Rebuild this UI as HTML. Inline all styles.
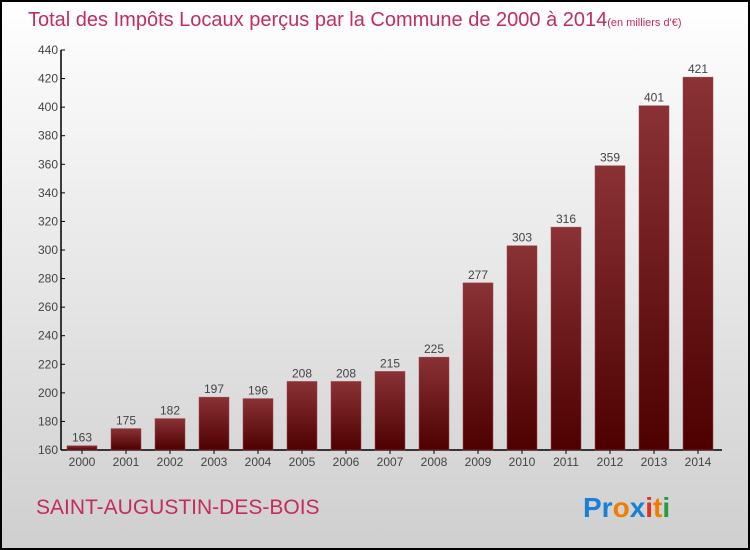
<!DOCTYPE html>
<html><head><meta charset="utf-8"><style>
body{margin:0;width:750px;height:550px;overflow:hidden}
svg{display:block;font-family:"Liberation Sans",sans-serif}
</style></head><body>
<svg id="chart" width="750" height="550">
<defs>
<linearGradient id="bg" x1="0" y1="0" x2="0" y2="1"><stop offset="0" stop-color="#ffffff"/><stop offset="1" stop-color="#cfcfcf"/></linearGradient>
<linearGradient id="bar" x1="0" y1="0" x2="0" y2="1"><stop offset="0" stop-color="#8a3236"/><stop offset="1" stop-color="#4e0000"/></linearGradient>
</defs>
<rect x="1" y="1" width="748" height="548" fill="url(#bg)" stroke="#000" stroke-width="2"/>
<text x="28" y="26" font-size="20" fill="#c42c5c">Total des Impôts Locaux perçus par la Commune de 2000 à 2014<tspan font-size="11">(en milliers d'€)</tspan></text>
<text x="36" y="514" font-size="21" fill="#c42c5c">SAINT-AUGUSTIN-DES-BOIS</text>
<g font-size="28" font-weight="bold">
<text x="583" y="517"><tspan fill="#1a7fd6">Pr</tspan><tspan fill="#f07c00">o</tspan><tspan fill="#1a7fd6">x</tspan><tspan fill="#e03020">i</tspan><tspan fill="#f07c00">t</tspan><tspan fill="#2a9a3a">i</tspan></text>
</g>
<g id="axes"></g>
<g id="bars"></g>
</svg>
<script>
const years=["2000","2001","2002","2003","2004","2005","2006","2007","2008","2009","2010","2011","2012","2013","2014"];
const values=[163,175,182,197,196,208,208,215,225,277,303,316,359,401,421];
const yTicks=[160,180,200,220,240,260,280,300,320,340,360,380,400,420,440];
const NS="http://www.w3.org/2000/svg";
const yMin=160,yMax=440,plotTop=50,plotBot=450,x0=61,step=44;
const yS=v=>plotBot-(v-yMin)/(yMax-yMin)*(plotBot-plotTop);
const xS=i=>x0+6+i*step;
function mk(t,a,p){const e=document.createElementNS(NS,t);for(const k in a)e.setAttribute(k,a[k]);p.appendChild(e);return e;}
const ax=document.getElementById('axes'),bg=document.getElementById('bars');
const yl=mk('line',{x1:x0,y1:plotTop,x2:x0,y2:plotBot,stroke:'#000','stroke-width':1.5},ax);


const xl=mk('line',{x1:x0,y1:plotBot,x2:722,y2:plotBot,stroke:'#000','stroke-width':1.5},ax);


yTicks.forEach(v=>{
 mk('line',{x1:x0,y1:yS(v),x2:x0+4,y2:yS(v),stroke:'#000'},ax);
 const t=mk('text',{x:x0-3,y:yS(v)+4,'text-anchor':'end','font-size':12,fill:'#444'},ax);
 t.textContent=v;
 
 
});
values.forEach((v,i)=>{
 const r=mk('rect',{x:xS(i),y:yS(v),width:30,height:plotBot-yS(v),fill:'url(#bar)',stroke:'#9a4a4e','stroke-width':0.5},bg);
 
 
 const t=mk('text',{x:xS(i)+15,y:yS(v)-4,'text-anchor':'middle','font-size':12,fill:'#444'},bg);
 t.textContent=v;
 
 
 mk('line',{x1:xS(i)+15,y1:plotBot,x2:xS(i)+15,y2:plotBot+4,stroke:'#000'},ax);
 const xt=mk('text',{x:xS(i)+15,y:plotBot+16,'text-anchor':'middle','font-size':12,fill:'#444'},ax);
 xt.textContent=years[i];
 
 
});
</script>
</body></html>
